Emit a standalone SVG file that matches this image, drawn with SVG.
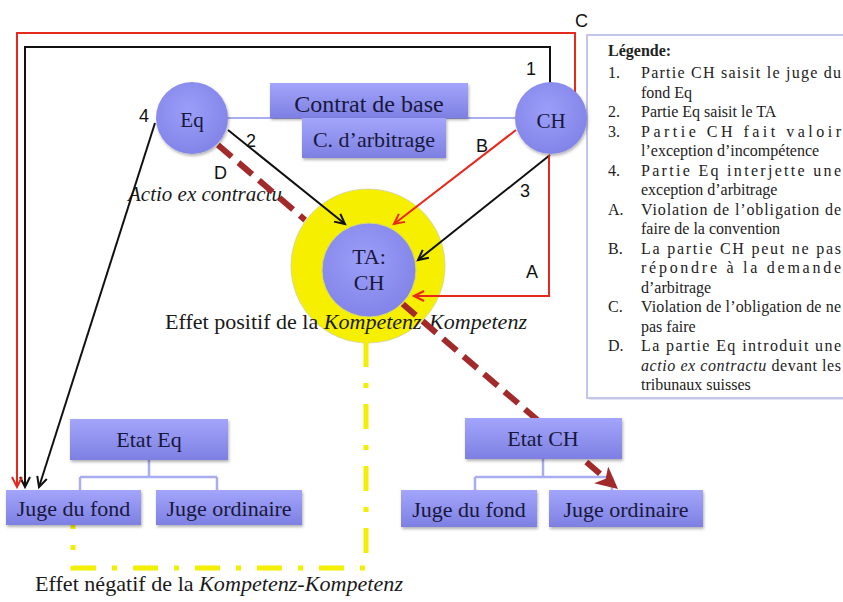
<svg xmlns="http://www.w3.org/2000/svg" width="843" height="602" viewBox="0 0 843 602">
<defs>
<style>
.node{fill:url(#ng);filter:url(#sh)}
.nt{font-family:"Liberation Serif","Times New Roman",serif;fill:#18183c;text-anchor:middle}
.lbl{font-family:"Liberation Sans",Arial,sans-serif;font-size:18px;fill:#111}
.lg{font-family:"Liberation Serif","Times New Roman",serif;font-size:16px;fill:#222}
.cap{font-family:"Liberation Serif","Times New Roman",serif;font-size:21px;fill:#1a1a1a}
.blk{stroke:#111;stroke-width:2;fill:none}
.red{stroke:#e8281c;stroke-width:2;fill:none}
.tree{stroke:#a9acef;stroke-width:2.5;fill:none}
</style>
<linearGradient id="ng" x1="0" y1="0" x2="0" y2="1">
<stop offset="0" stop-color="#a3a5fb"/>
<stop offset="1" stop-color="#7d80e2"/>
</linearGradient>
<radialGradient id="cg" cx="0.45" cy="0.4" r="0.65">
<stop offset="0" stop-color="#9b9ef9"/>
<stop offset="1" stop-color="#8083e6"/>
</radialGradient>
<filter id="sh" x="-20%" y="-20%" width="140%" height="150%">
<feDropShadow dx="1" dy="2" stdDeviation="1.5" flood-color="#000" flood-opacity="0.3"/>
</filter>
<marker id="ab" markerUnits="userSpaceOnUse" markerWidth="14" markerHeight="14" refX="11" refY="6" orient="auto">
<path d="M1,1 L11,6 L1,11" fill="none" stroke="#111" stroke-width="2"/>
</marker>
<marker id="ar" markerUnits="userSpaceOnUse" markerWidth="14" markerHeight="14" refX="11" refY="6" orient="auto">
<path d="M1,1 L11,6 L1,11" fill="none" stroke="#e8281c" stroke-width="2"/>
</marker>
<marker id="ad" markerUnits="userSpaceOnUse" markerWidth="26" markerHeight="24" refX="22" refY="11" orient="auto">
<path d="M0,0 L22,11 L0,22 L6,11 z" fill="#a32a2a"/>
</marker>
<mask id="dm" maskUnits="userSpaceOnUse" x="0" y="0" width="843" height="602">
<rect width="843" height="602" fill="#fff"/>
<circle cx="368" cy="266" r="78" fill="#000"/>
<rect x="395" y="298" width="100" height="100" fill="#fff"/>
<circle cx="369" cy="270" r="48" fill="#000"/>
</mask>
</defs>
<rect width="843" height="602" fill="#fff"/>

<g id="legend">
<rect x="589" y="37" width="270" height="363" fill="#e4e5f2"/>
<rect x="587" y="35" width="270" height="363" fill="#fff" stroke="#c3c6ea" stroke-width="2"/>
<text class="lg" x="608" y="56" font-weight="bold">Légende:</text>
<text class="lg" x="608" y="78">1.</text>
<text class="lg" x="641" y="78" textLength="200" lengthAdjust="spacing">Partie CH saisit le juge du</text>
<text class="lg" x="641" y="97.5">fond Eq</text>
<text class="lg" x="608" y="117">2.</text>
<text class="lg" x="641" y="117">Partie Eq saisit le TA</text>
<text class="lg" x="608" y="136.5">3.</text>
<text class="lg" x="641" y="136.5" textLength="200" lengthAdjust="spacing">Partie CH fait valoir</text>
<text class="lg" x="641" y="156">l’exception d’incompétence</text>
<text class="lg" x="608" y="175.5">4.</text>
<text class="lg" x="641" y="175.5" textLength="200" lengthAdjust="spacing">Partie Eq interjette une</text>
<text class="lg" x="641" y="195">exception d’arbitrage</text>
<text class="lg" x="608" y="214.5">A.</text>
<text class="lg" x="641" y="214.5" textLength="200" lengthAdjust="spacing">Violation de l’obligation de</text>
<text class="lg" x="641" y="234">faire de la convention</text>
<text class="lg" x="608" y="253.5">B.</text>
<text class="lg" x="641" y="253.5" textLength="200" lengthAdjust="spacing">La partie CH peut ne pas</text>
<text class="lg" x="641" y="273" textLength="200" lengthAdjust="spacing">répondre à la demande</text>
<text class="lg" x="641" y="292.5">d’arbitrage</text>
<text class="lg" x="608" y="312">C.</text>
<text class="lg" x="641" y="312" textLength="200" lengthAdjust="spacing">Violation de l’obligation de ne</text>
<text class="lg" x="641" y="331.5">pas faire</text>
<text class="lg" x="608" y="351">D.</text>
<text class="lg" x="641" y="351" textLength="200" lengthAdjust="spacing">La partie Eq introduit une</text>
<text class="lg" x="641" y="370.5" textLength="200" lengthAdjust="spacing"><tspan font-style="italic">actio ex contractu</tspan> devant les</text>
<text class="lg" x="641" y="390">tribunaux suisses</text>
</g>

<g id="ta">
<path d="M362,340 L366,349 L370,340 z" fill="#f6f000"/>
<circle cx="368" cy="266" r="77" fill="#f6f000" stroke="#cfcfa8" stroke-width="0.8"/>
<circle cx="369" cy="270" r="47" fill="url(#cg)" stroke="#d8d870" stroke-width="1"/>
<text class="nt" x="369" y="264" font-size="22">TA:</text>
<text class="nt" x="369" y="290" font-size="22">CH</text>
</g>

<g id="captions">
<text class="cap" x="165" y="329" textLength="362" lengthAdjust="spacingAndGlyphs">Effet positif de la <tspan font-style="italic">Kompetenz-Kompetenz</tspan></text>
<text class="cap" x="128" y="201" font-style="italic">Actio ex contractu</text>
<text class="cap" x="35" y="591" textLength="368" lengthAdjust="spacingAndGlyphs">Effet négatif de la <tspan font-style="italic">Kompetenz-Kompetenz</tspan></text>
</g>

<g id="connectors">
<path d="M228,118 H515" stroke="#a9acef" stroke-width="2" fill="none"/>
<path class="tree" d="M149,460 V477 M80,477 H217 M80,477 V490 M217,477 V490"/>
<path class="tree" d="M543,459 V477 M475,477 H612 M475,477 V490 M612,477 V490"/>
<path d="M366,342 V568 H73 V525" fill="none" stroke="#f4ee00" stroke-width="5" stroke-dasharray="25 16 5 16"/>
<path d="M218,145 L606,479" fill="none" stroke="#a32a2a" stroke-width="6" stroke-dasharray="18 9" mask="url(#dm)"/>
<path d="M606,479 L618,489" fill="none" stroke="none" marker-end="url(#ad)"/>
<path class="blk" d="M550,84 V47 H25 V487" marker-end="url(#ab)"/>
<path class="red" d="M575,92 V33 H17 V487" marker-end="url(#ar)"/>
<path class="blk" d="M155,123 L39,487" marker-end="url(#ab)"/>
<path class="blk" d="M228,130 L345,224" marker-end="url(#ab)"/>
<path class="red" d="M516,130 L394,224" marker-end="url(#ar)"/>
<path class="blk" d="M550,155 L418,260" marker-end="url(#ab)"/>
<path class="red" d="M549,155 V296 H414" marker-end="url(#ar)"/>
<text class="lbl" x="575" y="27">C</text>
<text class="lbl" x="526" y="75">1</text>
<text class="lbl" x="476" y="152">B</text>
<text class="lbl" x="520" y="197">3</text>
<text class="lbl" x="526" y="278">A</text>
<text class="lbl" x="139" y="122">4</text>
<text class="lbl" x="246" y="147">2</text>
<text class="lbl" x="214" y="179">D</text>
</g>

<g id="eq">
<circle cx="192" cy="118" r="36" fill="url(#cg)" filter="url(#sh)"/>
<text class="nt" x="192" y="127" font-size="21">Eq</text>
</g>
<g id="ch">
<circle cx="551" cy="118" r="36" fill="url(#cg)" filter="url(#sh)"/>
<text class="nt" x="551" y="128" font-size="21">CH</text>
</g>
<g id="contrat">
<rect class="node" x="270" y="83" width="198" height="35"/>
<text class="nt" x="369" y="112" font-size="24">Contrat de base</text>
</g>
<g id="arbitrage">
<rect class="node" x="302" y="118" width="144" height="40"/>
<text class="nt" x="374" y="147" font-size="22">C. d’arbitrage</text>
</g>
<g id="etat-eq">
<rect class="node" x="70" y="419" width="158" height="41"/>
<text class="nt" x="149" y="447" font-size="22">Etat Eq</text>
</g>
<g id="juge-fond-eq">
<rect class="node" x="6" y="490" width="135" height="35"/>
<text class="nt" x="73.5" y="516" font-size="22">Juge du fond</text>
</g>
<g id="juge-ord-eq">
<rect class="node" x="156" y="490" width="146" height="35"/>
<text class="nt" x="229" y="516" font-size="22">Juge ordinaire</text>
</g>
<g id="etat-ch">
<rect class="node" x="465" y="418" width="157" height="41"/>
<text class="nt" x="543" y="446" font-size="22">Etat CH</text>
</g>
<g id="juge-fond-ch">
<rect class="node" x="401" y="490" width="136" height="37"/>
<text class="nt" x="469" y="517" font-size="22">Juge du fond</text>
</g>
<g id="juge-ord-ch">
<rect class="node" x="549" y="490" width="154" height="37"/>
<text class="nt" x="626" y="517" font-size="22">Juge ordinaire</text>
</g>
</svg>
